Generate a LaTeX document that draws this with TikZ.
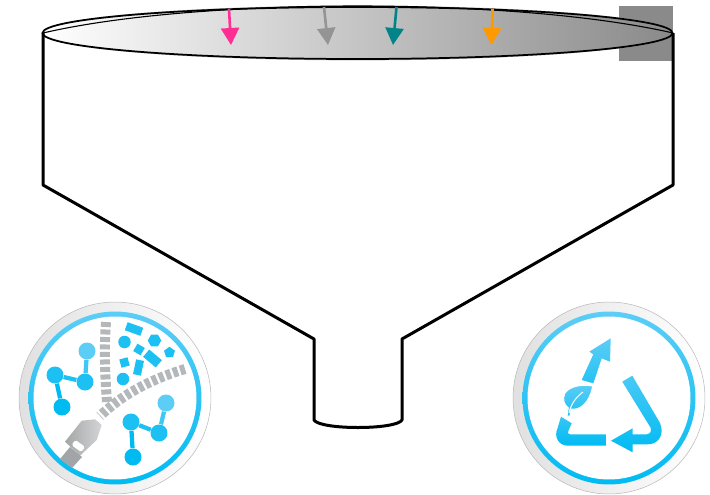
\documentclass[tikz,border=0pt]{standalone}
\usepackage{xcolor}
\usetikzlibrary{arrows.meta, shapes.geometric}
\definecolor{iconblue}{HTML}{00BBF2}
\definecolor{iconlight}{HTML}{5CCDF6}
\definecolor{zipgray}{HTML}{B4B8BB}
\definecolor{lidgray}{HTML}{8A8A8A}
\definecolor{droppink}{HTML}{FF2E93}
\definecolor{dropgray}{HTML}{949494}
\definecolor{dropteal}{HTML}{008488}
\definecolor{droporange}{HTML}{FF9900}

\begin{document}
\begin{tikzpicture}[
    x=0.02cm, y=-0.02cm,
    wall/.style={draw=black, line width=0.06cm, line join=round},
    drop/.style={-{Triangle[length=0.34cm, width=0.36cm]}, line width=0.052cm},
    rim/.style={circle, minimum size=3.84cm, inner sep=0pt, draw=gray!55, line width=0.3pt,
                left color=gray!24, right color=white},
    band/.style={circle, minimum size=3.46cm, inner sep=0pt, top color=iconlight, bottom color=iconblue},
    face/.style={circle, minimum size=3.26cm, inner sep=0pt, fill=white},
    atom/.style={circle, minimum size=0.34cm, inner sep=0pt, fill=#1},
    bond/.style={line width=0.085cm, draw=#1},
    bit/.style={inner sep=0pt, fill=iconblue!70!iconlight},
    teeth/.style={draw=zipgray, line width=0.2cm, dash pattern=on 0.1cm off 0.05cm},
]
\useasboundingbox (0,0) rectangle (710,494);

% Lid of the funnel
\fill[lidgray] (619,6) rectangle (673,60.5);
\draw[gray!60, line width=0.4pt] (357.5,33) ellipse [x radius=315, y radius=27];
\draw[black, line width=0.035cm, left color=white, middle color=gray!30, right color=lidgray]
  (357.5,33) ellipse [x radius=315, y radius=26];
\draw[black, line width=0.022cm] (43,33) .. controls (120,15) and (240,6) .. (357.5,6)
  .. controls (475,6) and (595,15) .. (673,33);

% Funnel walls
\draw[wall] (43,33) -- (43,185) -- (314,339) -- (314,420)
  .. controls (320,430) and (396,430) .. (402,420) -- (402,339) -- (673,185) -- (673,33);

% Falling arrows
\coordinate (p1) at (229,9);   \coordinate (p2) at (231,45);
\coordinate (g1) at (324,7);   \coordinate (g2) at (328,45);
\coordinate (t1) at (396.5,7); \coordinate (t2) at (393,45);
\coordinate (o1) at (492.5,9); \coordinate (o2) at (491.5,45);
\draw[drop, droppink] (p1) -- (p2);
\draw[drop, dropgray] (g1) -- (g2);
\draw[drop, dropteal] (t1) -- (t2);
\draw[drop, droporange] (o1) -- (o2);

% Left badge: zipper
\node[rim] (rimL) at (115,398) {};
\node[band] (bandL) at (115,398) {};
\node[face] (faceL) at (115,398) {};
\draw[teeth] (106,322) .. controls (104,350) and (105,375) .. (107,402);
\draw[teeth] (185,369) .. controls (155,378) and (125,392) .. (100,416);
\path[left color=gray!70, right color=zipgray!60] (65,441.7) -- (81.7,420.7) -- (95,419.3)
  -- (101.7,425) -- (96.7,440) -- (80,455.7) -- cycle;
\fill[zipgray!90!black] (70,447) -- (60,459) -- (72,468) -- (82,457) -- cycle;
\node[draw=none, fill=white, rounded corners=1pt, minimum width=0.24cm, minimum height=0.13cm,
      inner sep=0pt, rotate=-35] (hole) at (78.3,446) {};

% Left badge: loose pieces
\node[bit, minimum width=0.33cm, minimum height=0.17cm, rotate=-20] (b1) at (134,329) {};
\node[bit, circle, minimum size=0.25cm] (b2) at (124.5,342) {};
\node[bit, regular polygon, regular polygon sides=6, minimum size=0.27cm] (b3) at (154.5,340.5) {};
\node[bit, minimum size=0.17cm, rotate=-30] (b4) at (139,349.5) {};
\node[bit, regular polygon, regular polygon sides=5, minimum size=0.23cm] (b5) at (169.5,352.5) {};
\node[bit, minimum width=0.33cm, minimum height=0.19cm, rotate=-40] (b6) at (152.5,358.5) {};
\node[bit, minimum size=0.17cm, rotate=15] (b7) at (124.5,362.5) {};
\node[bit, minimum width=0.16cm, minimum height=0.3cm, rotate=-12] (b8) at (138.5,367.5) {};
\node[bit, circle, minimum size=0.25cm] (b9) at (123,379) {};

% Left badge: molecules
\node[atom=iconlight] (m1) at (87,351) {};
\node[atom=iconblue!70!iconlight] (m2) at (55,375) {};
\node[atom=iconblue!70!iconlight] (m3) at (85,382) {};
\node[atom=iconblue] (m4) at (62,407) {};
\draw[bond=iconlight!70!iconblue] (m1) -- (m3);
\draw[bond=iconblue!70!iconlight] (m2) -- (m3);
\draw[bond=iconblue] (m2) -- (m4);
\node[atom=iconlight] (n1) at (166,403) {};
\node[atom=iconblue!70!iconlight] (n2) at (159,433) {};
\node[atom=iconblue!70!iconlight] (n3) at (131,422) {};
\node[atom=iconblue] (n4) at (133,457) {};
\draw[bond=iconlight!70!iconblue] (n1) -- (n2);
\draw[bond=iconblue!70!iconlight] (n2) -- (n3);
\draw[bond=iconblue] (n3) -- (n4);

% Right badge: recycling loop
\node[rim] (rimR) at (609,398) {};
\node[band] (bandR) at (609,398) {};
\node[face] (faceR) at (609,398) {};
\path[top color=iconlight, bottom color=iconblue!60!iconlight] (581.7,380) -- (593.3,354.3)
  -- (589.3,351.7) -- (610.7,338.3) -- (610,361.7) -- (601.7,358.3) -- (593.3,383.3) -- cycle;
\path[top color=iconlight!80!iconblue, bottom color=iconblue] (622.3,381.7) -- (632.3,375.7)
  -- (660,423) .. controls (665,435) and (658,444.3) .. (648,444.3) -- (632.7,444.3)
  -- (632.7,452.3) -- (611,440.7) -- (632.7,428.3) -- (632.7,434.3) -- (646.7,434.3)
  .. controls (650,434) and (652,431) .. (650.5,427.5) -- cycle;
\path[top color=iconlight!60!iconblue, bottom color=iconblue] (561,416.7) -- (571.7,423.3)
  -- (568.3,431) .. controls (567.5,433) and (568,434.3) .. (570,434.3) -- (606.7,434.3)
  -- (606.7,445.7) -- (568,445.7) .. controls (558,445.7) and (554,436) .. (557.3,429) -- cycle;

% Right badge: leaf
\path[draw=white, line width=0.02cm, top color=iconlight, bottom color=iconblue!70!iconlight]
  (592.7,386) .. controls (582,384) and (570,386) .. (565,393)
  .. controls (562,399) and (564,405) .. (568.3,408) -- (567,416) -- (570,416) -- (571,409)
  .. controls (580,411) and (590,402) .. (592.7,386) -- cycle;
\coordinate (v1) at (569,413);
\coordinate (v2) at (583,392);
\draw[white, line width=0.02cm] (v1) .. controls (571,404) and (576,397) .. (v2);
\end{tikzpicture}
\end{document}
